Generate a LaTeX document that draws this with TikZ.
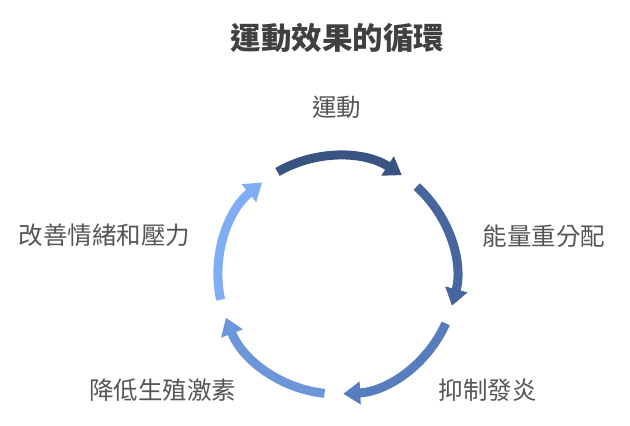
\documentclass[tikz,border=0pt]{standalone}
\usepackage{fontspec}
\setmainfont{Noto Sans CJK TC}
\usetikzlibrary{arrows.meta}
\definecolor{cyclea}{RGB}{58,84,130}
\definecolor{cycleb}{RGB}{72,102,158}
\definecolor{cyclec}{RGB}{88,125,190}
\definecolor{cycled}{RGB}{108,150,218}
\definecolor{cyclee}{RGB}{127,174,245}
\definecolor{labelgray}{RGB}{85,85,85}
\definecolor{titlegray}{RGB}{64,64,64}

\begin{document}
\begin{tikzpicture}[x=1pt,y=1pt,
  cyclearc/.style={line width=9pt,-{Triangle[width=22pt,length=17pt]}},
  steplabel/.style={text=labelgray,font=\fontsize{24.5}{24.5}\selectfont,inner sep=0pt}]
\useasboundingbox (0,0) rectangle (630,426);
\node [text=titlegray,font=\fontsize{30.5}{30.5}\selectfont\bfseries] (title) at (337.5,388) {運動效果的循環};

\coordinate (hub) at (337,151);

\node [steplabel] (exercise) at (336.5,319) {運動};
\node [steplabel] (energy) at (544,190) {能量重分配};
\node [steplabel] (inflame) at (487.5,36) {抑制發炎};
\node [steplabel] (hormone) at (162.5,36) {降低生殖激素};
\node [steplabel] (mood) at (104.5,191) {改善情緒和壓力};

\draw [cyclearc,cyclea] ([shift={(120:119)}]hub) arc [start angle=120,end angle=57,radius=119];
\draw [cyclearc,cycleb] ([shift={(48:119)}]hub) arc [start angle=48,end angle=-15,radius=119];
\draw [cyclearc,cyclec] ([shift={(-24:119)}]hub) arc [start angle=-24,end angle=-87,radius=119];
\draw [cyclearc,cycled] ([shift={(-96:119)}]hub) arc [start angle=-96,end angle=-159,radius=119];
\draw [cyclearc,cyclee] ([shift={(-168:119)}]hub) arc [start angle=-168,end angle=-231,radius=119];
\end{tikzpicture}
\end{document}
